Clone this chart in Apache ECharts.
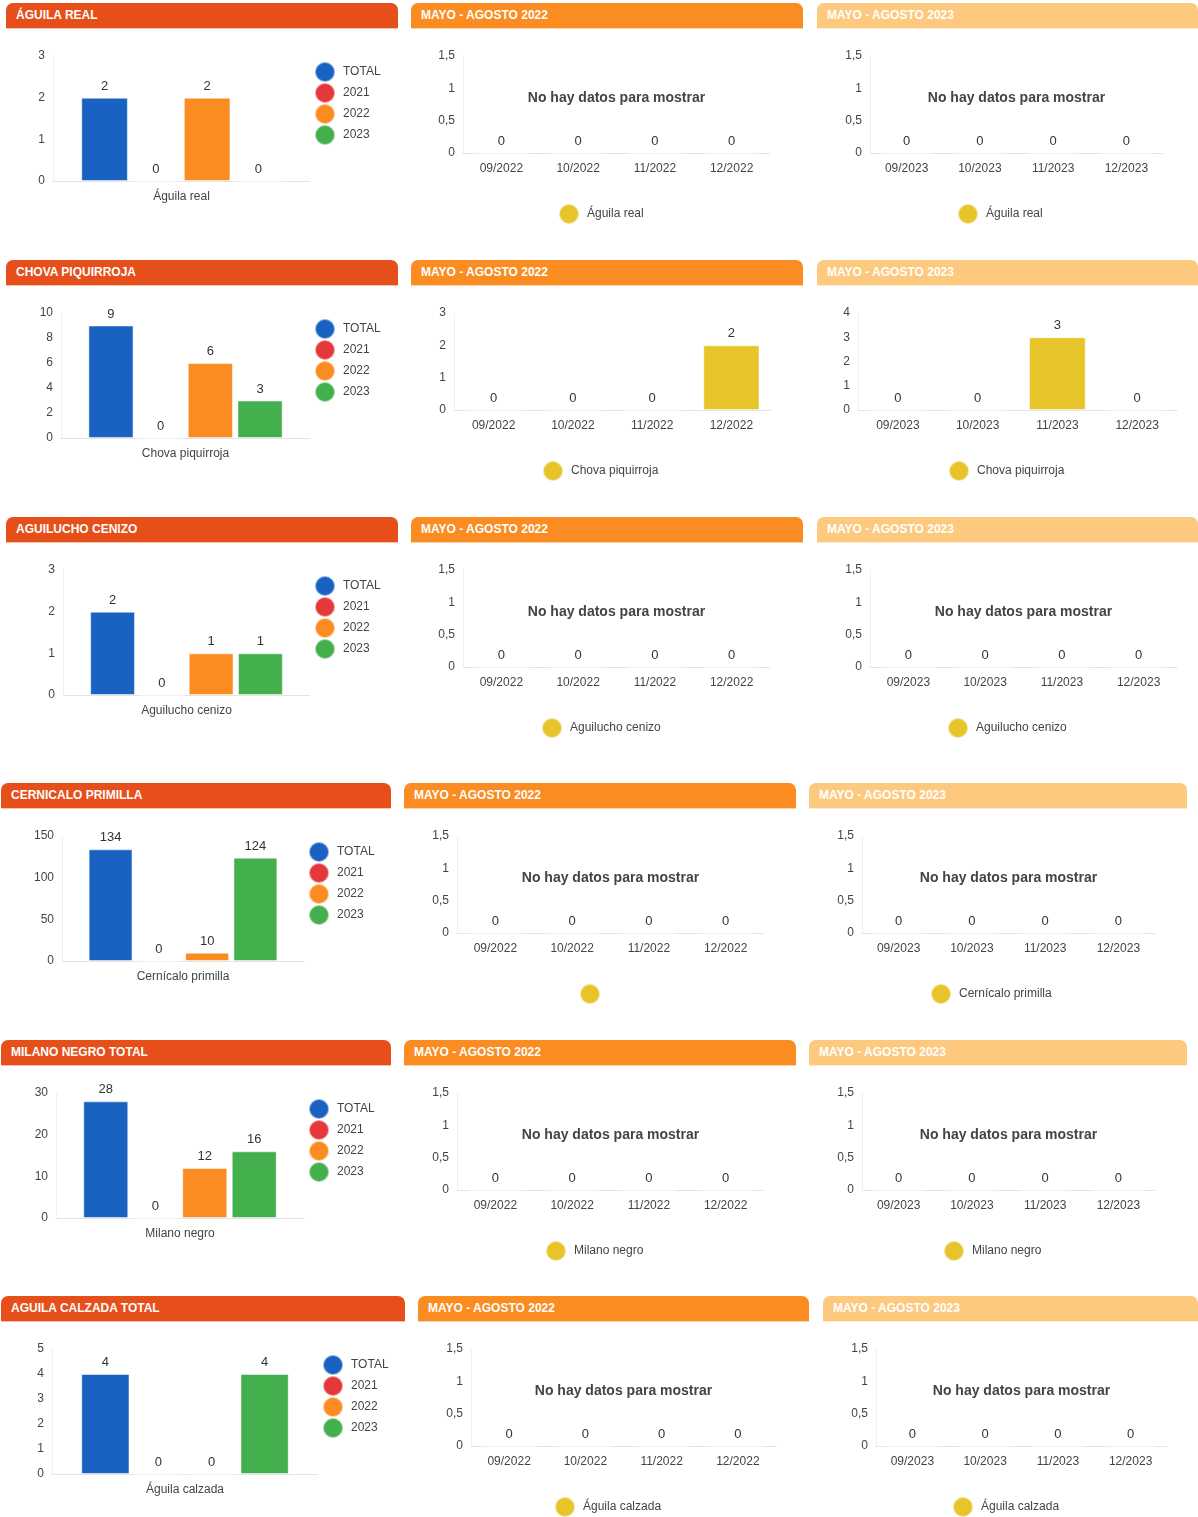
<!DOCTYPE html>
<html>
<head>
<meta charset="utf-8">
<script src="https://cdn.jsdelivr.net/npm/echarts@6/dist/echarts.min.js"></script>
<style>
  body { margin: 0; background: #fff; width: 1198px; height: 1517px; position: relative; overflow: hidden; font-family: "Liberation Sans", Arial, sans-serif; }
  .hdr { position: absolute; height: 25px; line-height: 25px; border-radius: 7px 7px 0 0; color: #fff; font-weight: bold; font-size: 12px; padding-left: 10px; box-sizing: border-box; white-space: nowrap; }
  .c0 { background: #e64f1a; box-shadow: 0 1px 0 #f6c3ad; }
  .c1 { background: #fa8c22; box-shadow: 0 1px 0 #fcd3a8; }
  .c2 { background: #fdc97e; box-shadow: 0 1px 0 #feebcf; }
  .chart { position: absolute; }
</style>
</head>
<body>
<script>
// --- data ---
const panelTitles = ["ÁGUILA REAL", "CHOVA PIQUIRROJA", "AGUILUCHO CENIZO", "CERNICALO PRIMILLA", "MILANO NEGRO TOTAL", "AGUILA CALZADA TOTAL"];
const periodTitles = ["MAYO - AGOSTO 2022", "MAYO - AGOSTO 2023"];
const speciesNames = ["Águila real", "Chova piquirroja", "Aguilucho cenizo", "Cernícalo primilla", "Milano negro", "Águila calzada"];
const legend2022 = ["Águila real", "Chova piquirroja", "Aguilucho cenizo", "", "Milano negro", "Águila calzada"];
const legend2023 = ["Águila real", "Chova piquirroja", "Aguilucho cenizo", "Cernícalo primilla", "Milano negro", "Águila calzada"];
const yearSeries = ["TOTAL", "2021", "2022", "2023"];

const totalValues = [
  [2, 0, 2, 0],
  [9, 0, 6, 3],
  [2, 0, 1, 1],
  [134, 0, 10, 124],
  [28, 0, 12, 16],
  [4, 0, 0, 4],
];
const totalMax = [3, 10, 3, 150, 30, 5];
const totalStep = [1, 2, 1, 50, 10, 1];

const months2022 = ["09/2022", "10/2022", "11/2022", "12/2022"];
const months2023 = ["09/2023", "10/2023", "11/2023", "12/2023"];
const values2022 = [
  [0, 0, 0, 0],
  [0, 0, 0, 2],
  [0, 0, 0, 0],
  [0, 0, 0, 0],
  [0, 0, 0, 0],
  [0, 0, 0, 0],
];
const values2023 = [
  [0, 0, 0, 0],
  [0, 0, 3, 0],
  [0, 0, 0, 0],
  [0, 0, 0, 0],
  [0, 0, 0, 0],
  [0, 0, 0, 0],
];
const max2022 = [1.5, 3, 1.5, 1.5, 1.5, 1.5];
const step2022 = [0.5, 1, 0.5, 0.5, 0.5, 0.5];
const max2023 = [1.5, 4, 1.5, 1.5, 1.5, 1.5];
const step2023 = [0.5, 1, 0.5, 0.5, 0.5, 0.5];

// --- layout ---
const FONT = '"Liberation Sans", Arial, sans-serif';
const yearColors = ["#1a62c2", "#e5383a", "#fa8c22", "#43af4d"];
const periodColor = "#e8c42b";
const headerClass = ["c0", "c1", "c2"];
const rowTop = [3, 260, 517, 783, 1040, 1296];
const panelSpans = [
  [[6, 398], [411, 803], [817, 1198]],
  [[6, 398], [411, 803], [817, 1198]],
  [[6, 398], [411, 803], [817, 1198]],
  [[1, 391], [404, 796], [809, 1187]],
  [[1, 391], [404, 796], [809, 1187]],
  [[1, 405], [418, 809], [823, 1198]],
];
const totalPlotX = [[53, 310], [61, 310], [63, 310], [62, 304], [56, 304], [52, 318]];
const periodPlotX = [
  [[463, 770], [870, 1163]],
  [[454, 771], [858, 1177]],
  [[463, 770], [870, 1177]],
  [[457, 764], [862, 1155]],
  [[457, 764], [862, 1155]],
  [[471, 776], [876, 1167]],
];
const periodLegendX = [[569, 968], [553, 959], [552, 958], [590, 941], [556, 954], [565, 963]];

function addBox(cls, x, y, w, h, text) {
  const el = document.createElement("div");
  el.className = cls;
  el.style.left = x + "px";
  el.style.top = y + "px";
  el.style.width = w + "px";
  el.style.height = h + "px";
  if (text) el.textContent = text;
  document.body.appendChild(el);
  return el;
}

const yAxisText = { color: "#444", fontSize: 12, margin: 8 };
const xAxisText = { color: "#444", fontSize: 12, margin: 10 };
const valueLabel = { show: true, position: "top", distance: 5, fontSize: 13, color: "#333" };
const barBorder = { borderColor: "rgba(255,255,255,0.5)", borderWidth: 1 };

function totalOption(i, x0) {
  const [pl, pr] = totalPlotX[i];
  return {
    animation: false,
    textStyle: { fontFamily: FONT },
    color: yearColors,
    legend: {
      orient: "vertical", left: pr - 1 - x0, top: 25, icon: "circle",
      itemWidth: 20, itemHeight: 20, itemGap: -1,
      textStyle: { fontSize: 12, color: "#444", padding: [0, 0, 0, 3] }, data: yearSeries,
    },
    grid: { left: pl - x0, top: 25, width: pr - pl, height: 125 },
    xAxis: {
      type: "category", data: [speciesNames[i]],
      axisTick: { show: false }, axisLine: { lineStyle: { color: "#e4e4e4" } }, axisLabel: xAxisText,
    },
    yAxis: {
      type: "value", min: 0, max: totalMax[i], interval: totalStep[i],
      splitLine: { show: false }, axisLine: { show: true, lineStyle: { color: "#f0f0f0" } }, axisLabel: yAxisText,
    },
    series: yearSeries.map((name, k) => ({
      name, type: "bar", data: [totalValues[i][k]],
      barGap: "10%", barCategoryGap: "22%", label: valueLabel, itemStyle: barBorder,
    })),
  };
}

function periodOption(i, p, x0) {
  const [pl, pr] = periodPlotX[i][p];
  const vals = p === 0 ? values2022[i] : values2023[i];
  const name = (p === 0 ? legend2022[i] : legend2023[i]) || " ";
  const empty = vals.every((v) => v === 0);
  return {
    animation: false,
    textStyle: { fontFamily: FONT },
    color: [periodColor],
    legend: {
      left: periodLegendX[i][p] - 16 - x0, top: 167, icon: "circle",
      itemWidth: 20, itemHeight: 20, textStyle: { fontSize: 12, color: "#444", padding: [0, 0, 0, 3] }, data: [name],
    },
    grid: { left: pl - x0, top: 25, width: pr - pl, height: 97 },
    xAxis: {
      type: "category", data: p === 0 ? months2022 : months2023,
      axisTick: { show: false }, axisLine: { lineStyle: { color: "#e4e4e4" } }, axisLabel: xAxisText,
    },
    yAxis: {
      type: "value", min: 0,
      max: p === 0 ? max2022[i] : max2023[i], interval: p === 0 ? step2022[i] : step2023[i],
      splitLine: { show: false }, axisLine: { show: true, lineStyle: { color: "#f0f0f0" } },
      axisLabel: Object.assign({}, yAxisText, { formatter: (v) => String(v).replace(".", ",") }),
    },
    graphic: empty ? [{
      type: "text", x: (pl + pr) / 2 - x0, y: 67,
      style: { text: "No hay datos para mostrar", font: "bold 14px " + FONT, fill: "#444", align: "center", verticalAlign: "middle" },
    }] : [],
    series: [{ name, type: "bar", data: vals, barCategoryGap: "29%", label: valueLabel, itemStyle: barBorder }],
  };
}

rowTop.forEach((top, i) => {
  panelSpans[i].forEach(([x0, x1], col) => {
    const title = col === 0 ? panelTitles[i] : periodTitles[col - 1];
    addBox("hdr " + headerClass[col], x0, top, x1 - x0, 25, title);
    const box = addBox("chart", x0, top + 28, x1 - x0, 222);
    const chart = echarts.init(box, null, { renderer: "canvas" });
    chart.setOption(col === 0 ? totalOption(i, x0) : periodOption(i, col - 1, x0));
  });
});
</script>
</body>
</html>
